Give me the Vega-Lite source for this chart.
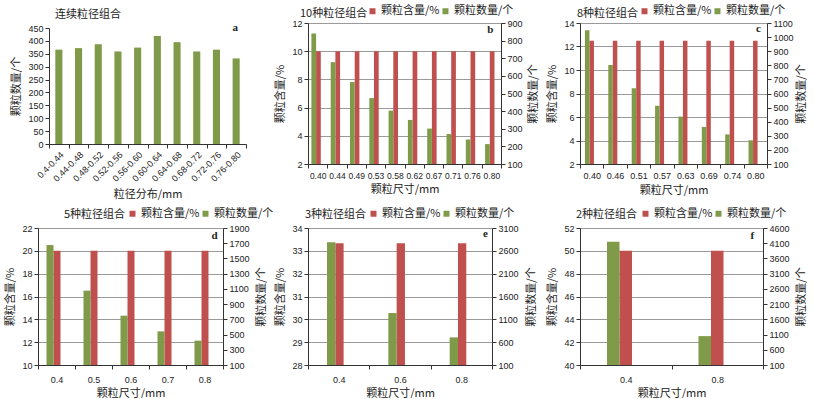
{
  "$schema": "https://vega.github.io/schema/vega-lite/v6.json",
  "padding": {"left": 4, "top": 5, "right": 0, "bottom": 0},
  "background": "white",
  "bounds": "flush",
  "columns": 3,
  "spacing": {"column": 62, "row": 64},
  "resolve": {"scale": {"color": "independent"}, "legend": {"color": "independent"}},
  "config": {
    "view": {"stroke": null},
    "font": "Noto Sans CJK SC",
    "axis": {
      "labelFont": "Liberation Sans", "labelFontSize": 9, "labelColor": "#222", "labelOverlap": false,
      "titleFont": "Noto Sans CJK SC", "titleFontSize": 11, "titleFontWeight": "normal", "titleColor": "#222",
      "domainColor": "#333", "tickColor": "#333", "tickSize": 4, "labelPadding": 2, "titlePadding": 6,
      "gridColor": "#9a9a9a", "gridWidth": 1.2
    },
    "legend": {
      "orient": "none", "direction": "horizontal", "padding": 0,
      "labelFont": "Noto Sans CJK SC", "labelFontSize": 11, "labelColor": "#222", "labelLimit": 0,
      "symbolType": "square", "symbolSize": 36, "symbolStrokeWidth": 0,
      "columnPadding": -5, "labelOffset": 3
    },
    "title": {"font": "Noto Sans CJK SC", "fontSize": 11, "fontWeight": "normal", "color": "#222", "anchor": "start", "frame": "group"}
  },
  "concat": [
    {
      "width": 208, "height": 121,
      "title": {"text": "连续粒径组合", "frame": "group", "anchor": "start", "dx": 17, "offset": 2},
      "data": {"values": [
        {"range": "0.4-0.44", "count": 366},
        {"range": "0.44-0.48", "count": 372},
        {"range": "0.48-0.52", "count": 387},
        {"range": "0.52-0.56", "count": 359},
        {"range": "0.56-0.60", "count": 374},
        {"range": "0.60-0.64", "count": 419},
        {"range": "0.64-0.68", "count": 395},
        {"range": "0.68-0.72", "count": 359},
        {"range": "0.72-0.76", "count": 366},
        {"range": "0.76-0.80", "count": 332}
      ]},
      "layer": [
        {
          "mark": {"type": "bar", "color": "#7f9a48", "width": {"band": 0.36}},
          "encoding": {
            "x": {"field": "range", "type": "nominal", "sort": null, "title": "粒径分布/mm",
                  "scale": {"range": [11, 208], "paddingInner": 0, "paddingOuter": 0},
                  "axis": {"labelAngle": -45, "tickBand": "extent", "titlePadding": 5}},
            "y": {"field": "count", "type": "quantitative", "title": "颗粒数量/个",
                  "scale": {"domain": [0, 450], "range": [121, 5]},
                  "axis": {"values": [0, 50, 100, 150, 200, 250, 300, 350, 400, 450], "labelOverlap": false, "grid": false, "offset": -11}}
          }
        },
        {
          "data": {"values": [{"label": "a"}]},
          "mark": {"type": "text", "font": "Liberation Serif", "fontWeight": "bold", "fontSize": 11, "dx": -1, "color": "#222"},
          "encoding": {"x": {"datum": "0.76-0.80"},
                       "y": {"datum": 450, "axis": {"values": [0, 50, 100, 150, 200, 250, 300, 350, 400, 450], "labelOverlap": false, "grid": false, "offset": -11}},
                       "text": {"field": "label"}}
        }
      ]
    },
    {
      "width": 193, "height": 141,
      "title": {"text": "10种粒径组合", "frame": "group", "anchor": "start", "dx": -8, "offset": -13},
      "data": {"values": [
        {"size": "0.40", "series": "颗粒含量/%", "value": 10},
        {"size": "0.44", "series": "颗粒含量/%", "value": 10},
        {"size": "0.49", "series": "颗粒含量/%", "value": 10},
        {"size": "0.53", "series": "颗粒含量/%", "value": 10},
        {"size": "0.58", "series": "颗粒含量/%", "value": 10},
        {"size": "0.62", "series": "颗粒含量/%", "value": 10},
        {"size": "0.67", "series": "颗粒含量/%", "value": 10},
        {"size": "0.71", "series": "颗粒含量/%", "value": 10},
        {"size": "0.76", "series": "颗粒含量/%", "value": 10},
        {"size": "0.80", "series": "颗粒含量/%", "value": 10},
        {"size": "0.40", "series": "颗粒数量/个", "value": 840},
        {"size": "0.44", "series": "颗粒数量/个", "value": 678},
        {"size": "0.49", "series": "颗粒数量/个", "value": 565},
        {"size": "0.53", "series": "颗粒数量/个", "value": 474},
        {"size": "0.58", "series": "颗粒数量/个", "value": 403},
        {"size": "0.62", "series": "颗粒数量/个", "value": 350},
        {"size": "0.67", "series": "颗粒数量/个", "value": 301},
        {"size": "0.71", "series": "颗粒数量/个", "value": 270},
        {"size": "0.76", "series": "颗粒数量/个", "value": 239},
        {"size": "0.80", "series": "颗粒数量/个", "value": 213}
      ]},
      "encoding": {
        "x": {"field": "size", "type": "nominal", "sort": null, "title": "颗粒尺寸/mm",
              "scale": {"paddingInner": 0, "paddingOuter": 0},
              "axis": {"labelAngle": 0, "tickBand": "extent", "labelFontSize": 8.5, "labelPadding": 3, "titlePadding": 4}},
        "color": {"field": "series", "type": "nominal", "scale": {"domain": ["颗粒含量/%", "颗粒数量/个"], "range": ["#c0504d", "#7f9a48"]},
                  "legend": {"title": null, "legendX": 59, "legendY": -17.5}}
      },
      "layer": [
        {"layer": [
          {
            "transform": [{"filter": "datum.series === '颗粒含量/%'"}],
            "mark": {"type": "bar", "clip": true, "width": 4.7, "xOffset": 0.8},
            "encoding": {
              "y": {"field": "value", "type": "quantitative", "title": "颗粒含量/%", "scale": {"domain": [2, 12]},
                    "axis": {"orient": "left", "values": [2, 4, 6, 8, 10, 12], "labelOverlap": false, "grid": true}}
            }
          },
          {
            "data": {"values": [{"label": "b"}]},
            "mark": {"type": "text", "font": "Liberation Serif", "fontWeight": "bold", "fontSize": 11, "dx": -1, "color": "#222"},
            "encoding": {"x": {"datum": "0.80"},
                         "y": {"datum": 11.5, "axis": {"orient": "left", "values": [2, 4, 6, 8, 10, 12], "labelOverlap": false, "grid": true}},
                         "text": {"field": "label"}, "color": {"value": "#222"}}
          }
        ]},
        {
          "transform": [{"filter": "datum.series === '颗粒数量/个'"}],
          "mark": {"type": "bar", "clip": true, "width": 4.7, "xOffset": -3.9},
          "encoding": {
            "y": {"field": "value", "type": "quantitative", "title": "颗粒数量/个", "scale": {"domain": [100, 900]},
                  "axis": {"orient": "right", "values": [100, 200, 300, 400, 500, 600, 700, 800, 900], "format": "d", "grid": false, "titleAngle": 270, "titleBaseline": "top", "titlePadding": 5}}
          }
        }
      ],
      "resolve": {"scale": {"y": "independent"}}
    },
    {
      "width": 187, "height": 141,
      "title": {"text": "8种粒径组合", "frame": "group", "anchor": "start", "dx": -3, "offset": -13},
      "data": {"values": [
        {"size": "0.40", "series": "颗粒含量/%", "value": 12.5},
        {"size": "0.46", "series": "颗粒含量/%", "value": 12.5},
        {"size": "0.51", "series": "颗粒含量/%", "value": 12.5},
        {"size": "0.57", "series": "颗粒含量/%", "value": 12.5},
        {"size": "0.63", "series": "颗粒含量/%", "value": 12.5},
        {"size": "0.69", "series": "颗粒含量/%", "value": 12.5},
        {"size": "0.74", "series": "颗粒含量/%", "value": 12.5},
        {"size": "0.80", "series": "颗粒含量/%", "value": 12.5},
        {"size": "0.40", "series": "颗粒数量/个", "value": 1048},
        {"size": "0.46", "series": "颗粒数量/个", "value": 802},
        {"size": "0.51", "series": "颗粒数量/个", "value": 637},
        {"size": "0.57", "series": "颗粒数量/个", "value": 513},
        {"size": "0.63", "series": "颗粒数量/个", "value": 436},
        {"size": "0.69", "series": "颗粒数量/个", "value": 363},
        {"size": "0.74", "series": "颗粒数量/个", "value": 310},
        {"size": "0.80", "series": "颗粒数量/个", "value": 268}
      ]},
      "encoding": {
        "x": {"field": "size", "type": "nominal", "sort": null, "title": "颗粒尺寸/mm",
              "scale": {"paddingInner": 0, "paddingOuter": 0},
              "axis": {"labelAngle": 0, "tickBand": "extent", "labelPadding": 3, "titlePadding": 4}},
        "color": {"field": "series", "type": "nominal", "scale": {"domain": ["颗粒含量/%", "颗粒数量/个"], "range": ["#c0504d", "#7f9a48"]},
                  "legend": {"title": null, "legendX": 59, "legendY": -17.5}}
      },
      "layer": [
        {"layer": [
          {
            "transform": [{"filter": "datum.series === '颗粒含量/%'"}],
            "mark": {"type": "bar", "clip": true, "width": 4.5},
            "encoding": {
              "y": {"field": "value", "type": "quantitative", "title": "颗粒含量/%", "scale": {"domain": [2, 14]},
                    "axis": {"orient": "left", "values": [2, 4, 6, 8, 10, 12, 14], "labelOverlap": false, "grid": true}}
            }
          },
          {
            "data": {"values": [{"label": "c"}]},
            "mark": {"type": "text", "font": "Liberation Serif", "fontWeight": "bold", "fontSize": 11, "dx": 3, "color": "#222"},
            "encoding": {"x": {"datum": "0.80"},
                         "y": {"datum": 13.5, "axis": {"orient": "left", "values": [2, 4, 6, 8, 10, 12, 14], "labelOverlap": false, "grid": true}},
                         "text": {"field": "label"}, "color": {"value": "#222"}}
          }
        ]},
        {
          "transform": [{"filter": "datum.series === '颗粒数量/个'"}],
          "mark": {"type": "bar", "clip": true, "width": 4.5, "xOffset": -4.5},
          "encoding": {
            "y": {"field": "value", "type": "quantitative", "title": "颗粒数量/个", "scale": {"domain": [100, 1100]},
                  "axis": {"orient": "right", "values": [100, 200, 300, 400, 500, 600, 700, 800, 900, 1000, 1100], "format": "d", "grid": false, "titleAngle": 270, "titleBaseline": "top", "titlePadding": 2}}
          }
        }
      ],
      "resolve": {"scale": {"y": "independent"}}
    },
    {
      "width": 185, "height": 137,
      "title": {"text": "5种粒径组合", "frame": "group", "anchor": "start", "dx": 26, "offset": -12},
      "data": {"values": [
        {"size": "0.4", "series": "颗粒含量/%", "value": 20},
        {"size": "0.5", "series": "颗粒含量/%", "value": 20},
        {"size": "0.6", "series": "颗粒含量/%", "value": 20},
        {"size": "0.7", "series": "颗粒含量/%", "value": 20},
        {"size": "0.8", "series": "颗粒含量/%", "value": 20},
        {"size": "0.4", "series": "颗粒数量/个", "value": 1676},
        {"size": "0.5", "series": "颗粒数量/个", "value": 1077},
        {"size": "0.6", "series": "颗粒数量/个", "value": 748},
        {"size": "0.7", "series": "颗粒数量/个", "value": 542},
        {"size": "0.8", "series": "颗粒数量/个", "value": 420}
      ]},
      "encoding": {
        "x": {"field": "size", "type": "nominal", "sort": null, "title": "颗粒尺寸/mm",
              "scale": {"paddingInner": 0, "paddingOuter": 0},
              "axis": {"labelAngle": 0, "tickBand": "extent", "labelPadding": 6, "titlePadding": 3}},
        "color": {"field": "series", "type": "nominal", "scale": {"domain": ["颗粒含量/%", "颗粒数量/个"], "range": ["#c0504d", "#7f9a48"]},
                  "legend": {"title": null, "legendX": 89, "legendY": -20}}
      },
      "layer": [
        {"layer": [
          {
            "transform": [{"filter": "datum.series === '颗粒含量/%'"}],
            "mark": {"type": "bar", "clip": true, "width": 7, "xOffset": 0.5},
            "encoding": {
              "y": {"field": "value", "type": "quantitative", "title": "颗粒含量/%", "scale": {"domain": [10, 22]},
                    "axis": {"orient": "left", "values": [10, 12, 14, 16, 18, 20, 22], "labelOverlap": false, "grid": true}}
            }
          },
          {
            "data": {"values": [{"label": "d"}]},
            "mark": {"type": "text", "font": "Liberation Serif", "fontWeight": "bold", "fontSize": 11, "dx": 10, "color": "#222"},
            "encoding": {"x": {"datum": "0.8"},
                         "y": {"datum": 21.3, "axis": {"orient": "left", "values": [10, 12, 14, 16, 18, 20, 22], "labelOverlap": false, "grid": true}},
                         "text": {"field": "label"}, "color": {"value": "#222"}}
          }
        ]},
        {
          "transform": [{"filter": "datum.series === '颗粒数量/个'"}],
          "mark": {"type": "bar", "clip": true, "width": 7, "xOffset": -6.5},
          "encoding": {
            "y": {"field": "value", "type": "quantitative", "title": "颗粒数量/个", "scale": {"domain": [100, 1900]},
                  "axis": {"orient": "right", "values": [100, 300, 500, 700, 900, 1100, 1300, 1500, 1700, 1900], "format": "d", "grid": false, "titleAngle": 270, "titleBaseline": "top", "titlePadding": 6}}
          }
        }
      ],
      "resolve": {"scale": {"y": "independent"}}
    },
    {
      "width": 210, "height": 137,
      "title": {"text": "3种粒径组合", "frame": "group", "anchor": "start", "dx": -3, "offset": -12},
      "data": {"values": [
        {"size": "0.4", "series": "颗粒含量/%", "value": 33.33},
        {"size": "0.6", "series": "颗粒含量/%", "value": 33.33},
        {"size": "0.8", "series": "颗粒含量/%", "value": 33.33},
        {"size": "0.4", "series": "颗粒数量/个", "value": 2786},
        {"size": "0.6", "series": "颗粒数量/个", "value": 1238},
        {"size": "0.8", "series": "颗粒数量/个", "value": 705}
      ]},
      "encoding": {
        "x": {"field": "size", "type": "nominal", "sort": null, "title": "颗粒尺寸/mm",
              "scale": {"range": [0, 184], "paddingInner": 0, "paddingOuter": 0},
              "axis": {"labelAngle": 0, "tickBand": "extent", "labelPadding": 6, "titlePadding": 3}},
        "color": {"field": "series", "type": "nominal", "scale": {"domain": ["颗粒含量/%", "颗粒数量/个"], "range": ["#c0504d", "#7f9a48"]},
                  "legend": {"title": null, "legendX": 60, "legendY": -20}}
      },
      "layer": [
        {"layer": [
          {
            "transform": [{"filter": "datum.series === '颗粒含量/%'"}],
            "mark": {"type": "bar", "clip": true, "width": 8.3, "xOffset": 0.8},
            "encoding": {
              "y": {"field": "value", "type": "quantitative", "title": "颗粒含量/%", "scale": {"domain": [28, 34]},
                    "axis": {"orient": "left", "values": [28, 29, 30, 31, 32, 33, 34], "labelOverlap": false, "grid": true}}
            }
          },
          {
            "data": {"values": [{"label": "e"}]},
            "mark": {"type": "text", "font": "Liberation Serif", "fontWeight": "bold", "fontSize": 11, "dx": 24, "color": "#222"},
            "encoding": {"x": {"datum": "0.8"},
                         "y": {"datum": 33.74, "axis": {"orient": "left", "values": [28, 29, 30, 31, 32, 33, 34], "labelOverlap": false, "grid": true}},
                         "text": {"field": "label"}, "color": {"value": "#222"}}
          }
        ]},
        {
          "transform": [{"filter": "datum.series === '颗粒数量/个'"}],
          "mark": {"type": "bar", "clip": true, "width": 8.3, "xOffset": -7.5},
          "encoding": {
            "y": {"field": "value", "type": "quantitative", "title": "颗粒数量/个", "scale": {"domain": [100, 3100]},
                  "axis": {"orient": "right", "offset": -26, "values": [100, 600, 1100, 1600, 2100, 2600, 3100], "format": "d", "grid": false, "titleAngle": 270, "titleBaseline": "top", "titlePadding": 7}}
          }
        }
      ],
      "resolve": {"scale": {"y": "independent"}}
    },
    {
      "width": 183, "height": 137,
      "title": {"text": "2种粒径组合", "frame": "group", "anchor": "start", "dx": -4, "offset": -12},
      "data": {"values": [
        {"size": "0.4", "series": "颗粒含量/%", "value": 50},
        {"size": "0.8", "series": "颗粒含量/%", "value": 50},
        {"size": "0.4", "series": "颗粒数量/个", "value": 4147},
        {"size": "0.8", "series": "颗粒数量/个", "value": 1049}
      ]},
      "encoding": {
        "x": {"field": "size", "type": "nominal", "sort": null, "title": "颗粒尺寸/mm",
              "scale": {"paddingInner": 0, "paddingOuter": 0},
              "axis": {"labelAngle": 0, "tickBand": "extent", "labelPadding": 6, "titlePadding": 3}},
        "color": {"field": "series", "type": "nominal", "scale": {"domain": ["颗粒含量/%", "颗粒数量/个"], "range": ["#c0504d", "#7f9a48"]},
                  "legend": {"title": null, "legendX": 60, "legendY": -20}}
      },
      "layer": [
        {"layer": [
          {
            "transform": [{"filter": "datum.series === '颗粒含量/%'"}],
            "mark": {"type": "bar", "clip": true, "width": 12.5},
            "encoding": {
              "y": {"field": "value", "type": "quantitative", "title": "颗粒含量/%", "scale": {"domain": [40, 52]},
                    "axis": {"orient": "left", "values": [40, 42, 44, 46, 48, 50, 52], "labelOverlap": false, "grid": true}}
            }
          },
          {
            "data": {"values": [{"label": "f"}]},
            "mark": {"type": "text", "font": "Liberation Serif", "fontWeight": "bold", "fontSize": 11, "dx": 35, "color": "#222"},
            "encoding": {"x": {"datum": "0.8"},
                         "y": {"datum": 51.3, "axis": {"orient": "left", "values": [40, 42, 44, 46, 48, 50, 52], "labelOverlap": false, "grid": true}},
                         "text": {"field": "label"}, "color": {"value": "#222"}}
          }
        ]},
        {
          "transform": [{"filter": "datum.series === '颗粒数量/个'"}],
          "mark": {"type": "bar", "clip": true, "width": 12.5, "xOffset": -12.5},
          "encoding": {
            "y": {"field": "value", "type": "quantitative", "title": "颗粒数量/个", "scale": {"domain": [100, 4600]},
                  "axis": {"orient": "right", "values": [100, 600, 1100, 1600, 2100, 2600, 3100, 3600, 4100, 4600], "format": "d", "grid": false, "titleAngle": 270, "titleBaseline": "top", "titlePadding": 6}}
          }
        }
      ],
      "resolve": {"scale": {"y": "independent"}}
    }
  ]
}
